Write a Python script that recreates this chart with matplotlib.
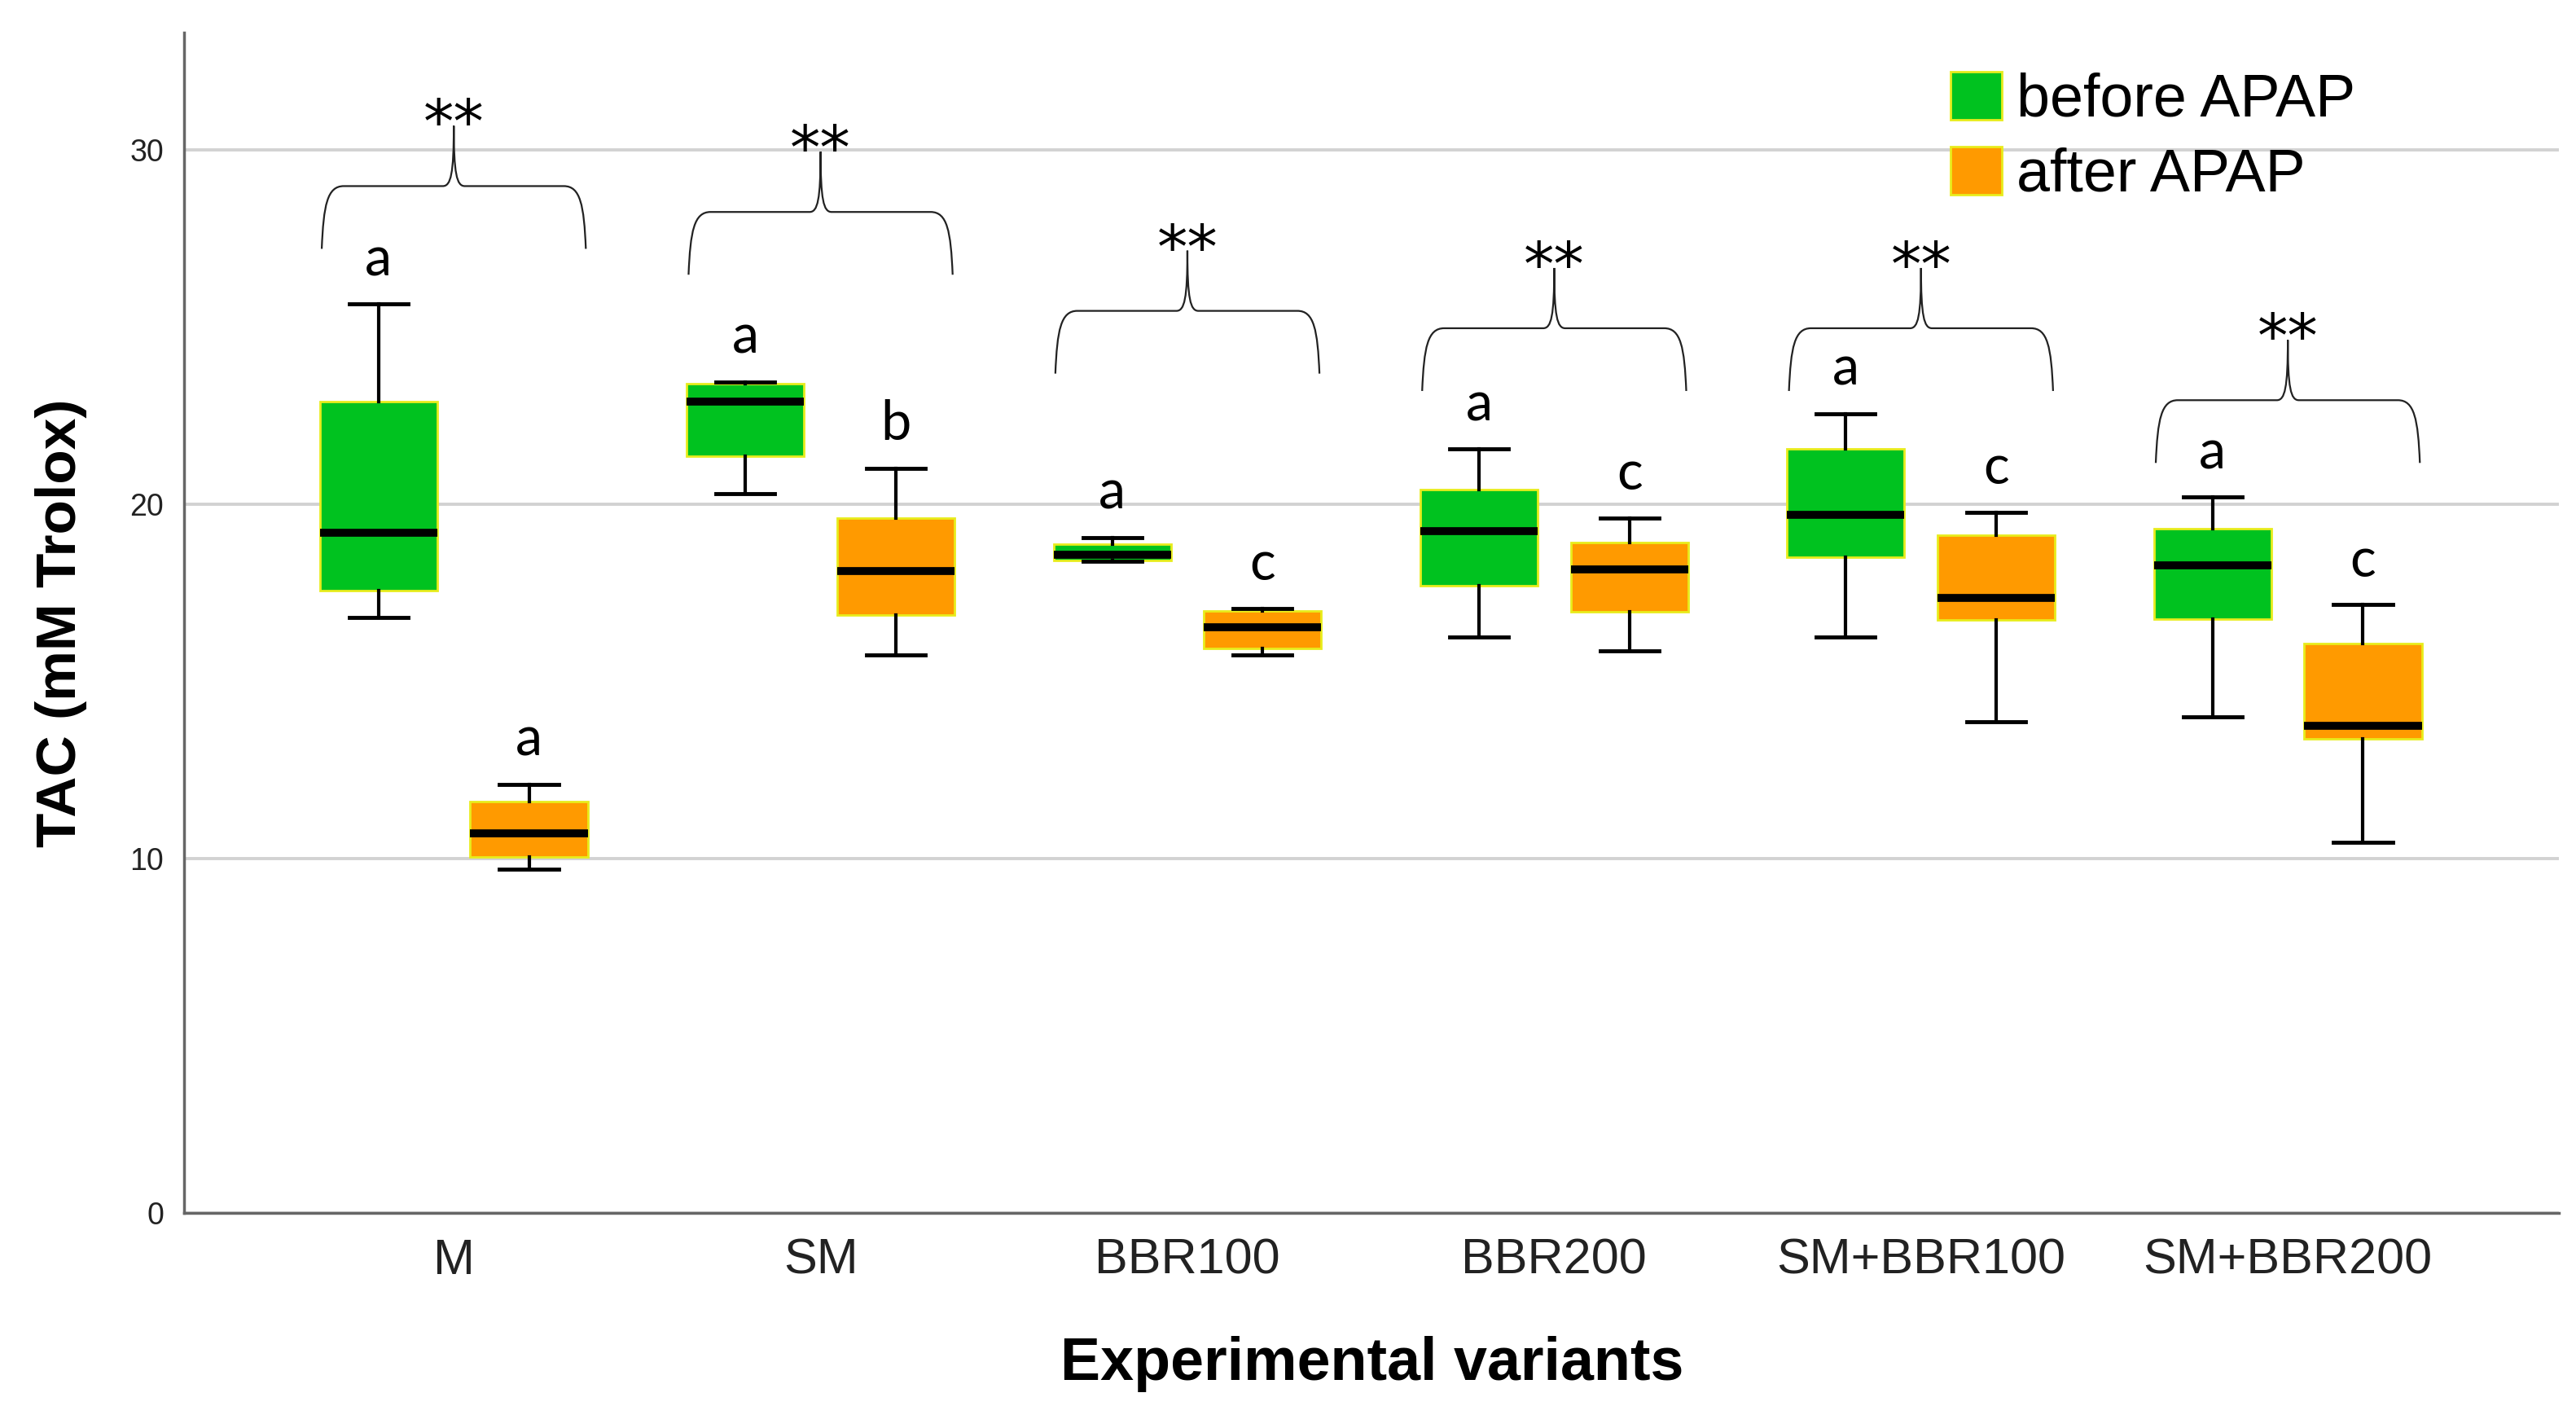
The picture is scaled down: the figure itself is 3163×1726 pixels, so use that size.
import numpy as np
import matplotlib
matplotlib.use("Agg")
import matplotlib.pyplot as plt
from matplotlib.path import Path
from matplotlib.patches import PathPatch, Patch

groups = ['M', 'SM', 'BBR100', 'BBR200', 'SM+BBR100', 'SM+BBR200']

# five-number summaries (mM Trolox)
before_whislo = [16.8, 20.3, 18.38, 16.25, 16.25, 14.0]
before_q1 = [17.55, 21.35, 18.42, 17.7, 18.5, 16.75]
before_med = [19.2, 22.9, 18.56, 19.24, 19.7, 18.28]
before_q3 = [22.9, 23.4, 18.86, 20.4, 21.55, 19.3]
before_whishi = [25.65, 23.45, 19.06, 21.55, 22.55, 20.2]

after_whislo = [9.7, 15.75, 15.75, 15.85, 13.85, 10.45]
after_q1 = [10.05, 16.88, 15.92, 16.95, 16.72, 13.38]
after_med = [10.7, 18.12, 16.52, 18.15, 17.36, 13.74]
after_q3 = [11.6, 19.6, 16.99, 18.92, 19.12, 16.07]
after_whishi = [12.1, 21.0, 17.05, 19.6, 19.77, 17.16]

before_letters = ['a', 'a', 'a', 'a', 'a', 'a']
after_letters = ['a', 'b', 'c', 'c', 'c', 'c']

# significance braces between before/after of each group
brace_level = [28.97, 28.24, 25.45, 24.96, 24.96, 22.93]
brace_marks = ['**'] * 6

green = '#00C21F'
orange = '#FF9A00'
edge = '#E8EC1C'

fig = plt.figure(figsize=(31.63, 17.26), dpi=100)
ax = fig.add_axes([0.0715, 0.1373, 0.922, 0.8395])

x = np.arange(len(groups))
off = 0.205
w = 0.32


def stats(lo, q1, med, q3, hi, names):
    return [dict(whislo=a, q1=b, med=c, q3=d, whishi=e, label=n, fliers=[])
            for a, b, c, d, e, n in zip(lo, q1, med, q3, hi, names)]


for st, pos, col in [
        (stats(before_whislo, before_q1, before_med, before_q3, before_whishi, groups), x - off, green),
        (stats(after_whislo, after_q1, after_med, after_q3, after_whishi, groups), x + off, orange)]:
    ax.bxp(st, positions=pos, widths=w, patch_artist=True, showfliers=False,
           boxprops=dict(facecolor=col, edgecolor=edge, linewidth=2),
           medianprops=dict(color='black', linewidth=7, solid_capstyle='butt'),
           whiskerprops=dict(color='black', linewidth=3),
           capprops=dict(color='black', linewidth=3.5),
           capwidths=0.16, zorder=3)

# letters above whiskers
for i in range(len(groups)):
    ax.text(x[i] - off, before_whishi[i] + 0.8, before_letters[i], ha='center',
            va='baseline', fontsize=48, family='Lato', zorder=4)
    ax.text(x[i] + off, after_whishi[i] + 0.8, after_letters[i], ha='center',
            va='baseline', fontsize=48, family='Lato', zorder=4)


def brace(ax, x0, x1, y, d=1.77, h=1.7):
    xc = (x0 + x1) / 2
    verts = [(x0, y - d), (x0 + 0.005, y - 0.3 * d), (x0 + 0.015, y), (x0 + 0.06, y),
             (xc - 0.03, y),
             (xc - 0.008, y), (xc, y + 0.2 * h), (xc, y + h),
             (xc, y + 0.2 * h), (xc + 0.008, y), (xc + 0.03, y),
             (x1 - 0.06, y),
             (x1 - 0.015, y), (x1 - 0.005, y - 0.3 * d), (x1, y - d)]
    codes = [Path.MOVETO, Path.CURVE4, Path.CURVE4, Path.CURVE4, Path.LINETO,
             Path.CURVE4, Path.CURVE4, Path.CURVE4,
             Path.CURVE4, Path.CURVE4, Path.CURVE4, Path.LINETO,
             Path.CURVE4, Path.CURVE4, Path.CURVE4]
    ax.add_patch(PathPatch(Path(verts, codes), facecolor='none',
                           edgecolor='#222222', linewidth=1.6, zorder=4))
    return xc, y + h


for i in range(len(groups)):
    xc, top = brace(ax, x[i] - 0.36, x[i] + 0.36, brace_level[i])
    ax.text(xc, top - 0.85, brace_marks[i], ha='center', va='bottom',
            fontsize=54, family='DejaVu Sans', zorder=4)

ax.set_xlim(-0.735, 5.74)
ax.set_ylim(0, 33.3)
ax.set_yticks([0, 10, 20, 30])
ax.set_xticks(x)
ax.set_xticklabels(groups, fontsize=44, family='Liberation Sans', color='#222222')
for lab in ax.get_yticklabels():
    lab.set_fontsize(27)
    lab.set_family('Liberation Sans')
    lab.set_color('#222222')
ax.tick_params(axis='both', length=0)
ax.tick_params(axis='x', pad=22)
ax.tick_params(axis='y', pad=18)

ax.grid(axis='y', color='#D2D2D2', linewidth=2.8, zorder=0)
ax.set_axisbelow(True)
for s in ['top', 'right']:
    ax.spines[s].set_visible(False)
ax.spines['left'].set_color('#666666')
ax.spines['bottom'].set_color('#666666')
ax.spines['left'].set_linewidth(2.5)
ax.spines['bottom'].set_linewidth(2.5)

ax.set_ylabel('TAC (mM Trolox)', fontsize=50, fontweight='bold',
              family='Liberation Sans', labelpad=38)
ax.set_xlabel('Experimental variants', fontsize=53, fontweight='bold',
              family='Liberation Sans', labelpad=46)

handles = [Patch(facecolor=green, edgecolor=edge, linewidth=2, label='before APAP'),
           Patch(facecolor=orange, edgecolor=edge, linewidth=2, label='after APAP')]
ax.legend(handles=handles, loc='upper left', bbox_to_anchor=(2395 / 3163, 1 - 88 / 1726),
          bbox_transform=fig.transFigure, frameon=False,
          prop=dict(family='Liberation Sans', size=53),
          handlelength=0.85, handleheight=0.85, handletextpad=0.25,
          labelspacing=0.3, borderaxespad=0, borderpad=0)

fig.savefig('out.png', dpi=100)
